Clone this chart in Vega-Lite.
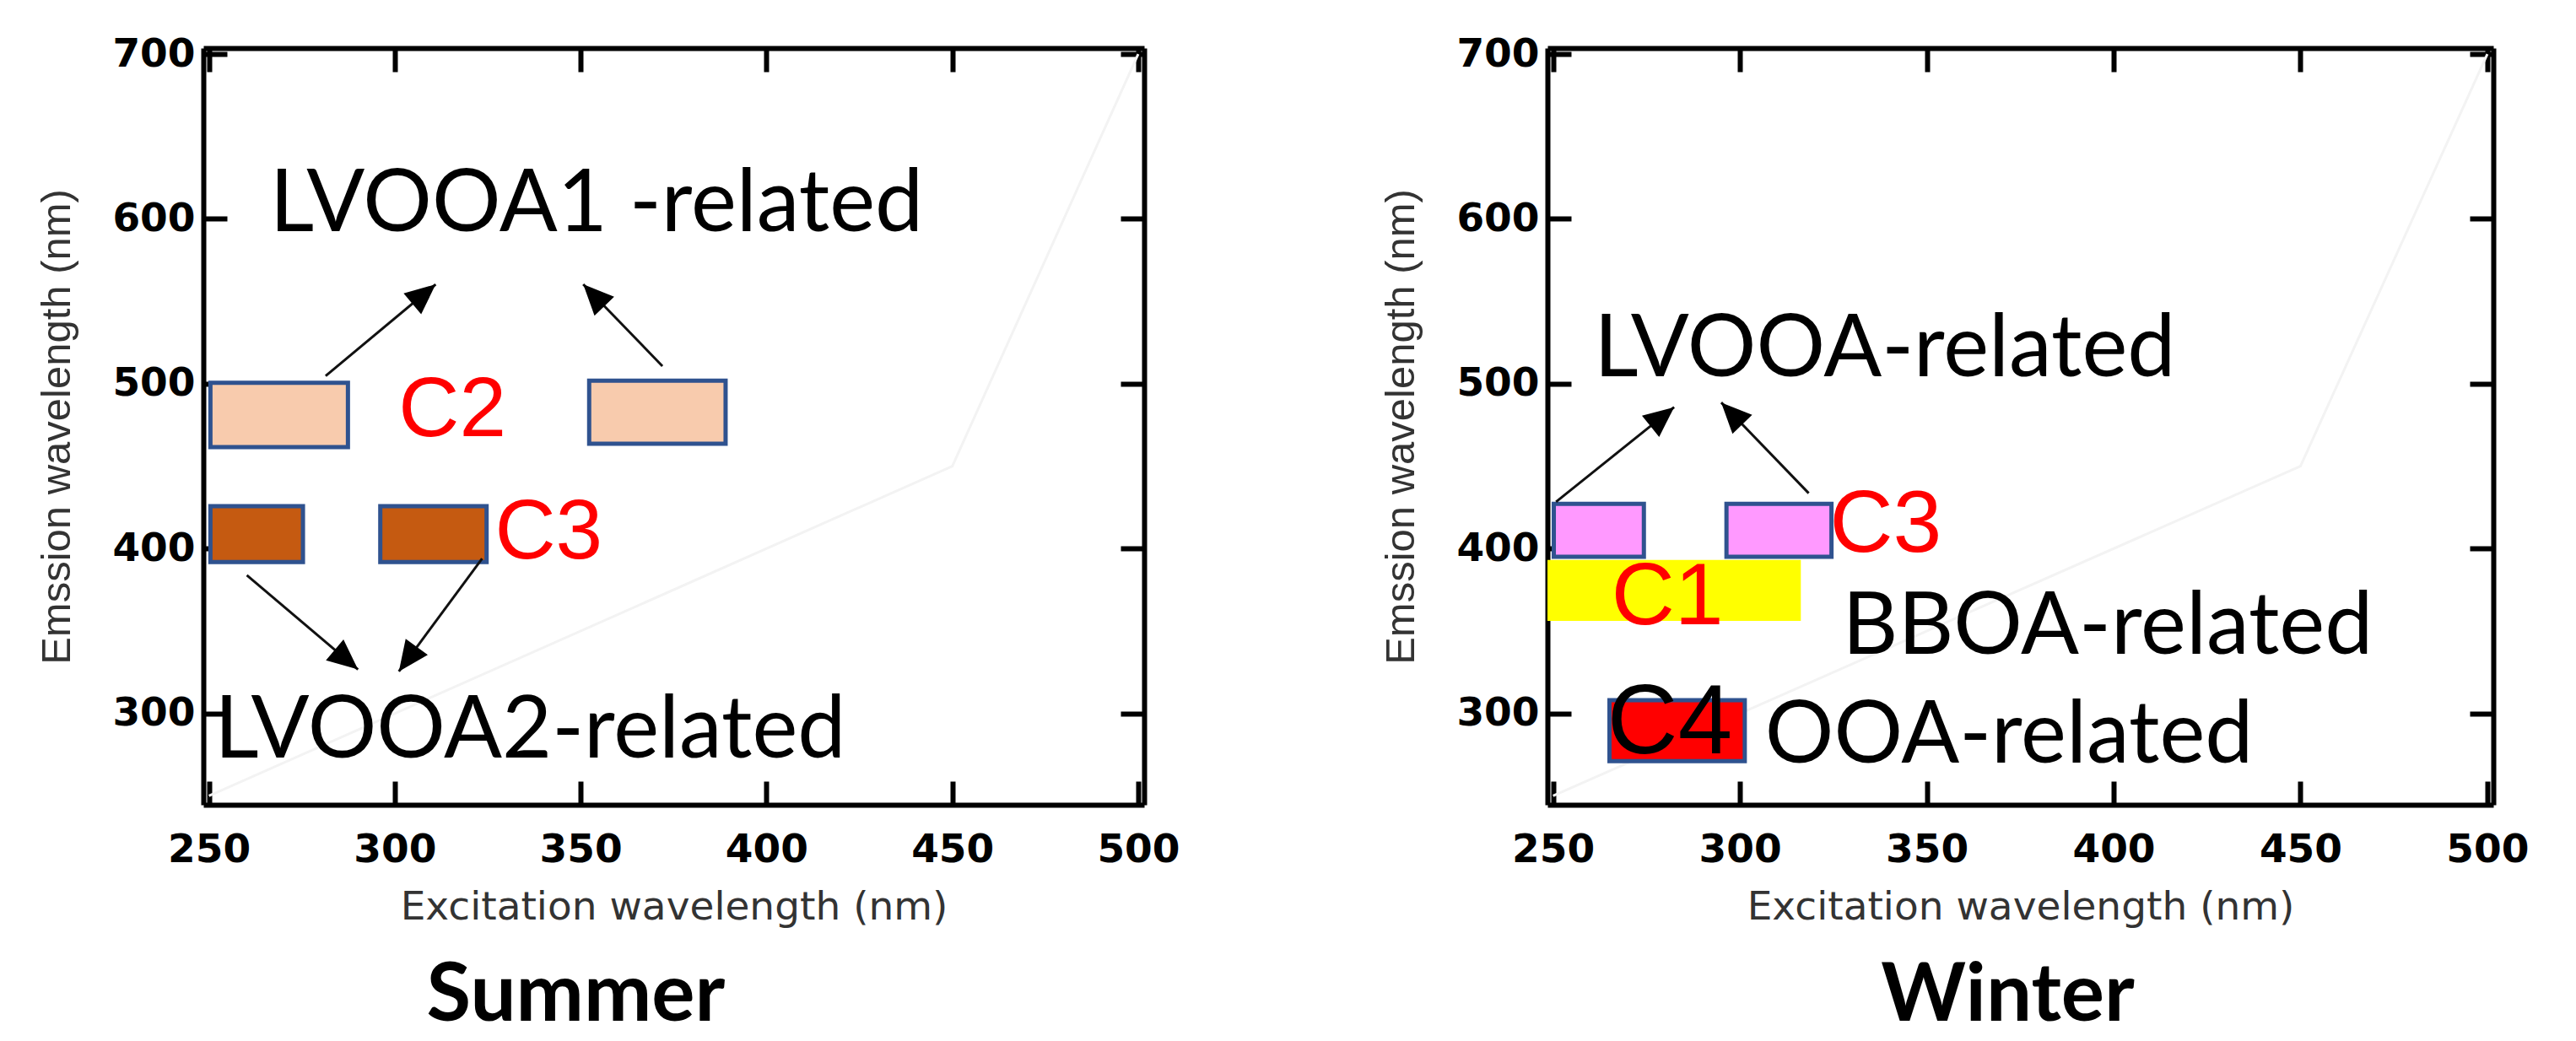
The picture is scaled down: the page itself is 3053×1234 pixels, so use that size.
{
  "$schema": "https://vega.github.io/schema/vega-lite/v6.json",
  "padding": {"left": 43, "top": 40, "right": 5, "bottom": 0},
  "background": "white",
  "spacing": 237,
  "config": {
    "view": {"stroke": null},
    "axis": {"grid": false, "domainColor": "#000", "domainWidth": 6, "tickColor": "#000", "tickWidth": 6, "tickSize": -28,
      "labelFont": "DejaVu Sans", "labelFontSize": 47, "labelFontWeight": "bold", "labelColor": "#000",
      "titleFont": "Liberation Sans", "titleFontSize": 49, "titleFontWeight": "normal", "titleColor": "#333"},
    "axisX": {"labelPadding": 58, "titlePadding": 22, "titleFont": "DejaVu Sans", "titleFontSize": 47},
    "axisY": {"labelPadding": 38, "titlePadding": 40}
  },
  "datasets": {
    "diag": [{"x": 250, "y": 250}, {"x": 450, "y": 450}, {"x": 500, "y": 700}],
    "rects": [
      {"season": "Summer", "comp": "C2", "x": 250.4, "x2": 287.4, "y": 461.6, "y2": 500.6},
      {"season": "Summer", "comp": "C2", "x": 352.3, "x2": 389.0, "y": 463.6, "y2": 501.9},
      {"season": "Summer", "comp": "C3", "x": 250.4, "x2": 275.3, "y": 391.9, "y2": 425.7},
      {"season": "Summer", "comp": "C3", "x": 296.1, "x2": 324.7, "y": 391.9, "y2": 425.7},
      {"season": "Winter", "comp": "C1", "x": 248.5, "x2": 316.3, "y": 356.2, "y2": 393.1},
      {"season": "Winter", "comp": "C3", "x": 250.2, "x2": 274.3, "y": 395.1, "y2": 427.2},
      {"season": "Winter", "comp": "C3", "x": 296.4, "x2": 324.5, "y": 395.1, "y2": 427.2},
      {"season": "Winter", "comp": "C4", "x": 265.1, "x2": 301.3, "y": 271.1, "y2": 308.0}
    ],
    "labels": [
      {"season": "Summer", "kind": "group", "text": "LVOOA1 -related", "x": 266.4, "y": 592.5},
      {"season": "Summer", "kind": "group", "text": "LVOOA2-related", "x": 251.5, "y": 273},
      {"season": "Summer", "kind": "comp", "text": "C2", "x": 301.0, "y": 468.4},
      {"season": "Summer", "kind": "comp", "text": "C3", "x": 326.9, "y": 394},
      {"season": "Winter", "kind": "group", "text": "LVOOA-related", "x": 261.0, "y": 504.6},
      {"season": "Winter", "kind": "group", "text": "BBOA-related", "x": 327.4, "y": 336},
      {"season": "Winter", "kind": "group", "text": "OOA-related", "x": 306.7, "y": 270},
      {"season": "Winter", "kind": "comp", "text": "C3", "x": 324.0, "y": 398.3},
      {"season": "Winter", "kind": "comp", "text": "C1", "x": 265.6, "y": 354.2},
      {"season": "Winter", "kind": "comp4", "text": "C4", "x": 264.5, "y": 275.9}
    ],
    "arrows": [
      {"season": "Summer", "x": 281.4, "y": 504.7, "x2": 311.0, "y2": 560.3, "dir": 50},
      {"season": "Summer", "x": 372.0, "y": 510.7, "x2": 350.7, "y2": 560.3, "dir": 316},
      {"season": "Summer", "x": 260.2, "y": 383.9, "x2": 290.1, "y2": 326.7, "dir": 130},
      {"season": "Summer", "x": 323.5, "y": 394.0, "x2": 301.1, "y2": 325.5, "dir": 216},
      {"season": "Winter", "x": 250.8, "y": 428.4, "x2": 282.4, "y2": 485.8, "dir": 51},
      {"season": "Winter", "x": 318.4, "y": 433.6, "x2": 295.0, "y2": 488.6, "dir": 316}
    ]
  },
  "resolve": {"scale": {"fill": "independent"}},
  "hconcat": [
    {
      "width": 1115, "height": 897,
      "title": {"text": "Summer", "orient": "bottom", "anchor": "middle", "dx": -116, "offset": 36, "font": "Lato", "fontSize": 96, "fontWeight": "bold", "color": "#000"},
      "resolve": {"axis": {"x": "independent", "y": "independent"}},
      "layer": [
        {
          "data": {"name": "diag"},
          "mark": {"type": "line", "color": "#f3f3f3", "strokeWidth": 3, "clip": true},
          "encoding": {
            "x": {"field": "x", "type": "quantitative", "scale": {"domain": [248.5, 501.6], "nice": false, "zero": false},
              "axis": {"orient": "bottom", "values": [250, 300, 350, 400, 450, 500], "title": "Excitation wavelength (nm)"}},
            "y": {"field": "y", "type": "quantitative", "scale": {"domain": [244.6, 703.6], "nice": false, "zero": false},
              "axis": {"orient": "left", "values": [300, 400, 500, 600, 700], "title": "Emssion wavelength (nm)"}}
          }
        },
        {
          "data": {"name": "rects"},
          "transform": [{"filter": "datum.season === 'Summer'"}],
          "mark": {"type": "rect", "stroke": "#2F528F", "strokeWidth": 5},
          "encoding": {
            "x": {"field": "x", "type": "quantitative", "scale": {"domain": [248.5, 501.6], "nice": false, "zero": false},
              "axis": {"orient": "top", "values": [250, 300, 350, 400, 450, 500], "labels": false, "title": null}},
            "x2": {"field": "x2"},
            "y": {"field": "y", "type": "quantitative", "scale": {"domain": [244.6, 703.6], "nice": false, "zero": false},
              "axis": {"orient": "right", "values": [300, 400, 500, 600, 700], "labels": false, "title": null}},
            "y2": {"field": "y2"},
            "fill": {"field": "comp", "type": "nominal", "scale": {"domain": ["C2", "C3"], "range": ["#F8CBAD", "#C55A11"]}, "legend": null}
          }
        },
        {
          "data": {"name": "arrows"},
          "transform": [{"filter": "datum.season === 'Summer'"}],
          "mark": {"type": "rule", "color": "#111", "strokeWidth": 3},
          "encoding": {
            "x": {"field": "x", "type": "quantitative", "axis": null},
            "y": {"field": "y", "type": "quantitative", "axis": null},
            "x2": {"field": "x2"},
            "y2": {"field": "y2"}
          }
        },
        {
          "data": {"name": "arrows"},
          "transform": [{"filter": "datum.season === 'Summer'"}],
          "mark": {"type": "point", "shape": "M0,0L-0.9,2L0.9,2Z", "size": 1296, "filled": true, "color": "#000", "opacity": 1},
          "encoding": {
            "x": {"field": "x2", "type": "quantitative", "axis": null},
            "y": {"field": "y2", "type": "quantitative", "axis": null},
            "angle": {"field": "dir", "type": "quantitative", "scale": null}
          }
        },
        {
          "data": {"name": "labels"},
          "transform": [{"filter": "datum.season === 'Summer' && datum.kind === 'group'"}],
          "mark": {"type": "text", "font": "Lato", "fontSize": 102, "color": "#000", "align": "left", "baseline": "alphabetic"},
          "encoding": {
            "x": {"field": "x", "type": "quantitative", "axis": null},
            "y": {"field": "y", "type": "quantitative", "axis": null},
            "text": {"field": "text"}
          }
        },
        {
          "data": {"name": "labels"},
          "transform": [{"filter": "datum.season === 'Summer' && datum.kind === 'comp'"}],
          "mark": {"type": "text", "font": "Liberation Sans", "fontSize": 100, "color": "#FF0000", "align": "left", "baseline": "alphabetic"},
          "encoding": {
            "x": {"field": "x", "type": "quantitative", "axis": null},
            "y": {"field": "y", "type": "quantitative", "axis": null},
            "text": {"field": "text"}
          }
        }
      ]
    },
    {
      "width": 1121, "height": 897,
      "title": {"text": "Winter", "orient": "bottom", "anchor": "middle", "dx": -15, "offset": 36, "font": "Lato", "fontSize": 96, "fontWeight": "bold", "color": "#000"},
      "resolve": {"axis": {"x": "independent", "y": "independent"}},
      "layer": [
        {
          "data": {"name": "diag"},
          "mark": {"type": "line", "color": "#f3f3f3", "strokeWidth": 3, "clip": true},
          "encoding": {
            "x": {"field": "x", "type": "quantitative", "scale": {"domain": [248.5, 501.6], "nice": false, "zero": false},
              "axis": {"orient": "bottom", "values": [250, 300, 350, 400, 450, 500], "title": "Excitation wavelength (nm)"}},
            "y": {"field": "y", "type": "quantitative", "scale": {"domain": [244.6, 703.6], "nice": false, "zero": false},
              "axis": {"orient": "left", "values": [300, 400, 500, 600, 700], "title": "Emssion wavelength (nm)"}}
          }
        },
        {
          "data": {"name": "rects"},
          "transform": [{"filter": "datum.season === 'Winter' && datum.comp !== 'C1'"}],
          "mark": {"type": "rect", "stroke": "#2F528F", "strokeWidth": 5},
          "encoding": {
            "x": {"field": "x", "type": "quantitative", "scale": {"domain": [248.5, 501.6], "nice": false, "zero": false},
              "axis": {"orient": "top", "values": [250, 300, 350, 400, 450, 500], "labels": false, "title": null}},
            "x2": {"field": "x2"},
            "y": {"field": "y", "type": "quantitative", "scale": {"domain": [244.6, 703.6], "nice": false, "zero": false},
              "axis": {"orient": "right", "values": [300, 400, 500, 600, 700], "labels": false, "title": null}},
            "y2": {"field": "y2"},
            "fill": {"field": "comp", "type": "nominal", "scale": {"domain": ["C3", "C4"], "range": ["#FF99FF", "#FF0000"]}, "legend": null}
          }
        },
        {
          "data": {"name": "rects"},
          "transform": [{"filter": "datum.season === 'Winter' && datum.comp === 'C1'"}],
          "mark": {"type": "rect", "color": "#FFFF00"},
          "encoding": {
            "x": {"field": "x", "type": "quantitative", "axis": null},
            "x2": {"field": "x2"},
            "y": {"field": "y", "type": "quantitative", "axis": null},
            "y2": {"field": "y2"}
          }
        },
        {
          "data": {"name": "arrows"},
          "transform": [{"filter": "datum.season === 'Winter'"}],
          "mark": {"type": "rule", "color": "#111", "strokeWidth": 3},
          "encoding": {
            "x": {"field": "x", "type": "quantitative", "axis": null},
            "y": {"field": "y", "type": "quantitative", "axis": null},
            "x2": {"field": "x2"},
            "y2": {"field": "y2"}
          }
        },
        {
          "data": {"name": "arrows"},
          "transform": [{"filter": "datum.season === 'Winter'"}],
          "mark": {"type": "point", "shape": "M0,0L-0.9,2L0.9,2Z", "size": 1296, "filled": true, "color": "#000", "opacity": 1},
          "encoding": {
            "x": {"field": "x2", "type": "quantitative", "axis": null},
            "y": {"field": "y2", "type": "quantitative", "axis": null},
            "angle": {"field": "dir", "type": "quantitative", "scale": null}
          }
        },
        {
          "data": {"name": "labels"},
          "transform": [{"filter": "datum.season === 'Winter' && datum.kind === 'group'"}],
          "mark": {"type": "text", "font": "Lato", "fontSize": 102, "color": "#000", "align": "left", "baseline": "alphabetic"},
          "encoding": {
            "x": {"field": "x", "type": "quantitative", "axis": null},
            "y": {"field": "y", "type": "quantitative", "axis": null},
            "text": {"field": "text"}
          }
        },
        {
          "data": {"name": "labels"},
          "transform": [{"filter": "datum.season === 'Winter' && datum.kind === 'comp'"}],
          "mark": {"type": "text", "font": "Liberation Sans", "fontSize": 104, "color": "#FF0000", "align": "left", "baseline": "alphabetic"},
          "encoding": {
            "x": {"field": "x", "type": "quantitative", "axis": null},
            "y": {"field": "y", "type": "quantitative", "axis": null},
            "text": {"field": "text"}
          }
        },
        {
          "data": {"name": "labels"},
          "transform": [{"filter": "datum.season === 'Winter' && datum.kind === 'comp4'"}],
          "mark": {"type": "text", "font": "Liberation Sans", "fontSize": 116, "color": "#000", "align": "left", "baseline": "alphabetic"},
          "encoding": {
            "x": {"field": "x", "type": "quantitative", "axis": null},
            "y": {"field": "y", "type": "quantitative", "axis": null},
            "text": {"field": "text"}
          }
        }
      ]
    }
  ]
}
